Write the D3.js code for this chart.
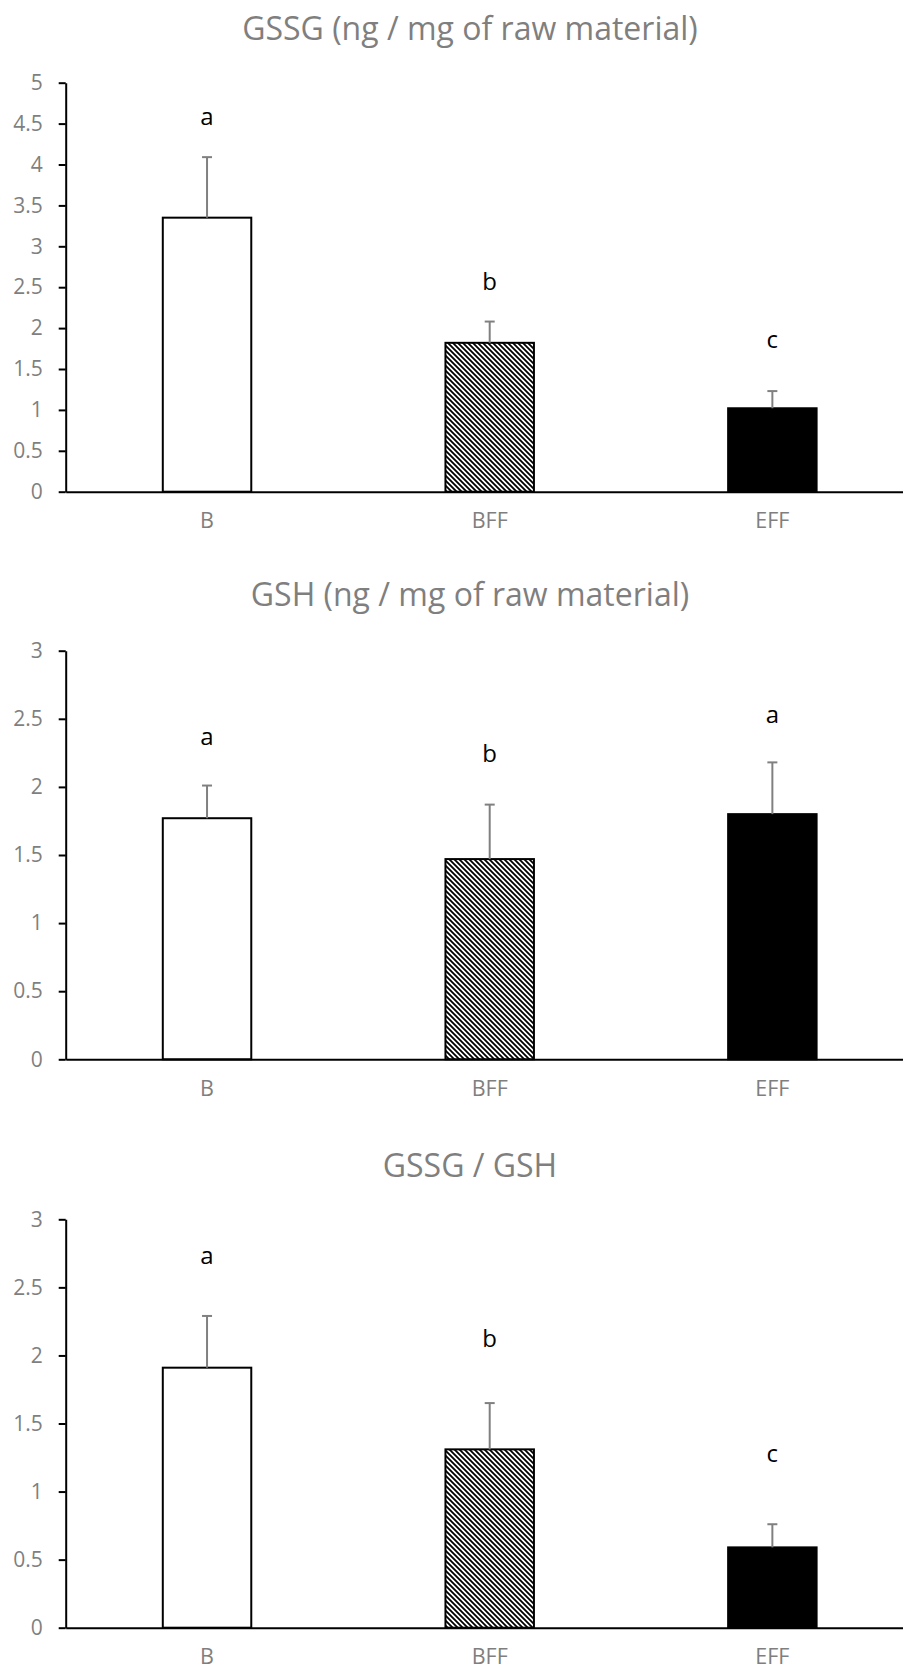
<!DOCTYPE html>
<html>
<head>
<meta charset="utf-8">
<script src="https://cdn.jsdelivr.net/npm/d3@7"></script>
<style>
    body { margin: 0; background: #ffffff; }
    #chart-area { width: 903px; height: 1670px; }
    text { font-family: "Open Sans", sans-serif; }
</style>
</head>
<body>
<div id="chart-area"></div>
<script>

// == DATA == //
const categories = ["B", "BFF", "EFF"];

const gssgMeans = [3.35, 1.82, 1.02];
const gssgErrors = [0.74, 0.26, 0.21];
const gssgLetters = ["a", "b", "c"];
const gssgLetterPos = [4.57, 2.55, 1.84];
const gssgTicks = [0, 0.5, 1, 1.5, 2, 2.5, 3, 3.5, 4, 4.5, 5];

const gshMeans = [1.77, 1.47, 1.80];
const gshErrors = [0.24, 0.40, 0.38];
const gshLetters = ["a", "b", "a"];
const gshLetterPos = [2.36, 2.23, 2.52];
const gshTicks = [0, 0.5, 1, 1.5, 2, 2.5, 3];

const ratioMeans = [1.91, 1.31, 0.59];
const ratioErrors = [0.38, 0.34, 0.17];
const ratioLetters = ["a", "b", "c"];
const ratioLetterPos = [2.72, 2.11, 1.27];
const ratioTicks = [0, 0.5, 1, 1.5, 2, 2.5, 3];

const titles = ["GSSG (ng / mg of raw material)", "GSH (ng / mg of raw material)", "GSSG / GSH"];


class BarPanel {

    constructor(svg, title, means, errors, letters, letterPos, ticks, layout) {
        this.svg = svg;
        this.title = title;
        this.means = means;
        this.errors = errors;
        this.letters = letters;
        this.letterPos = letterPos;
        this.ticks = ticks;
        this.layout = layout;

        this.initVis()
    }

    initVis() {
        let vis = this;

        vis.g = vis.svg.append("g").attr("class", "panel");

        // scales
        vis.x = d3.scaleBand()
            .domain(categories)
            .range([65.7, 913.7])
            .paddingInner(0.687)
            .paddingOuter(0.3435);

        vis.y = d3.scaleLinear()
            .domain([0, d3.max(vis.ticks)])
            .range([vis.layout.bottom, vis.layout.top]);

        // title
        vis.g.append("text")
            .attr("x", 470)
            .attr("y", vis.layout.titleY)
            .attr("text-anchor", "middle")
            .attr("fill", "#7f7f7f")
            .style("font-size", "32px")
            .text(vis.title);

        vis.wrangleData()
    }

    wrangleData() {
        let vis = this;

        vis.displayData = categories.map((c, i) => ({
            cat: c,
            mean: vis.means[i],
            err: vis.errors[i],
            letter: vis.letters[i],
            letterPos: vis.letterPos[i],
            fill: ["#ffffff", "url(#hatch)", "#000000"][i]
        }));

        vis.updateVis()
    }

    updateVis() {
        let vis = this;

        // bars
        vis.g.selectAll(".bar")
            .data(vis.displayData)
            .enter().append("rect")
            .attr("class", "bar")
            .attr("x", d => vis.x(d.cat))
            .attr("width", vis.x.bandwidth())
            .attr("y", d => vis.y(d.mean))
            .attr("height", d => vis.y(0) - vis.y(d.mean))
            .attr("fill", d => d.fill)
            .attr("stroke", "#000")
            .attr("stroke-width", 2);

        // error bars (upper only)
        let err = vis.g.selectAll(".err")
            .data(vis.displayData)
            .enter().append("g")
            .attr("class", "err")
            .attr("stroke", "#808080")
            .attr("stroke-width", 2);

        err.append("line")
            .attr("x1", d => vis.x(d.cat) + vis.x.bandwidth() / 2)
            .attr("x2", d => vis.x(d.cat) + vis.x.bandwidth() / 2)
            .attr("y1", d => vis.y(d.mean))
            .attr("y2", d => vis.y(d.mean + d.err));

        err.append("line")
            .attr("x1", d => vis.x(d.cat) + vis.x.bandwidth() / 2 - 5)
            .attr("x2", d => vis.x(d.cat) + vis.x.bandwidth() / 2 + 5)
            .attr("y1", d => vis.y(d.mean + d.err))
            .attr("y2", d => vis.y(d.mean + d.err));

        // significance letters
        vis.g.selectAll(".letter")
            .data(vis.displayData)
            .enter().append("text")
            .attr("class", "letter")
            .attr("x", d => vis.x(d.cat) + vis.x.bandwidth() / 2)
            .attr("y", d => vis.y(d.letterPos))
            .attr("dy", "0.28em")
            .attr("text-anchor", "middle")
            .attr("fill", "#000")
            .style("font-size", "24px")
            .text(d => d.letter);

        // x axis
        vis.xAxis = d3.axisBottom(vis.x).tickSize(0).tickPadding(21);
        let xg = vis.g.append("g")
            .attr("class", "x-axis")
            .attr("transform", `translate(0, ${vis.y(0)})`)
            .call(vis.xAxis);
        xg.select(".domain").attr("stroke", "#000").attr("stroke-width", 2);
        xg.selectAll("text").attr("fill", "#7f7f7f").style("font-size", "21.5px").style("font-family", "Open Sans");

        // y axis
        vis.yAxis = d3.axisLeft(vis.y)
            .tickValues(vis.ticks)
            .tickFormat(d3.format(""))
            .tickSize(7)
            .tickSizeOuter(0)
            .tickPadding(16);
        let yg = vis.g.append("g")
            .attr("class", "y-axis")
            .attr("transform", "translate(65.7, 0)")
            .call(vis.yAxis);
        yg.select(".domain").attr("stroke", "#000").attr("stroke-width", 2);
        yg.selectAll(".tick line").attr("stroke", "#000").attr("stroke-width", 2);
        yg.selectAll("text").attr("fill", "#7f7f7f").style("font-size", "21px").style("font-family", "Open Sans");
    }
}


// == SVG == //
let svg = d3.select("#chart-area").append("svg")
    .attr("width", 903)
    .attr("height", 1670);

// hatch pattern for BFF (downward diagonal stripes)
svg.append("defs").append("pattern")
    .attr("id", "hatch")
    .attr("patternUnits", "userSpaceOnUse")
    .attr("width", 5)
    .attr("height", 5)
    .call(p => {
        p.append("rect").attr("width", 5).attr("height", 5).attr("fill", "#fff");
        p.append("path")
            .attr("d", "M0,0 L1.25,0 L5,3.75 L5,5 L3.75,5 L0,1.25 Z M3.75,0 L5,0 L5,1.25 Z M0,3.75 L1.25,5 L0,5 Z")
            .attr("fill", "#000");
    });

new BarPanel(svg, titles[0], gssgMeans, gssgErrors, gssgLetters, gssgLetterPos, gssgTicks,
    {top: 82.7, bottom: 491.7, titleY: 40});
new BarPanel(svg, titles[1], gshMeans, gshErrors, gshLetters, gshLetterPos, gshTicks,
    {top: 650.7, bottom: 1059.3, titleY: 606});
new BarPanel(svg, titles[2], ratioMeans, ratioErrors, ratioLetters, ratioLetterPos, ratioTicks,
    {top: 1219.3, bottom: 1627.7, titleY: 1177});

</script>
</body>
</html>
